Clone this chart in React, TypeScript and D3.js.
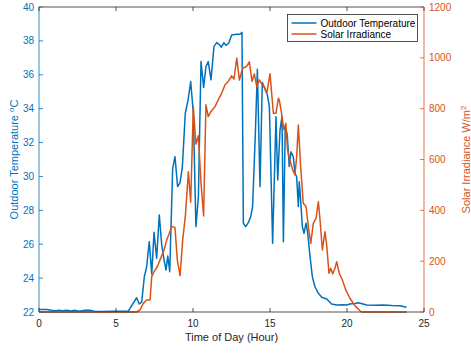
import * as d3 from "d3";

// outdoor temperature (deg C) vs hour of day
const tempHours = [
  0, 0.5, 0.8, 1.1, 1.3, 1.5, 1.8, 2.1, 2.3, 2.6, 3.0, 3.3, 3.6, 4.2, 4.8, 5.3, 5.8,
  6.34, 6.51, 6.67, 6.84, 6.99, 7.16, 7.32, 7.47, 7.64, 7.81, 7.97, 8.12, 8.25, 8.36, 8.49,
  8.68, 8.83, 9.0, 9.16, 9.31, 9.5, 9.68, 9.85, 10.02, 10.19, 10.35, 10.52, 10.69, 10.84,
  10.99, 11.17, 11.36, 11.54, 11.69, 11.84, 12.01, 12.14, 12.32, 12.51, 12.84, 13.05, 13.18,
  13.27, 13.42, 13.59, 13.75, 13.87, 14.05, 14.18, 14.35, 14.5, 14.66, 14.83, 14.96, 15.17,
  15.39, 15.5, 15.65, 15.78, 15.87, 15.99, 16.12, 16.25, 16.36, 16.51, 16.62, 16.73, 16.84,
  16.9, 16.99, 17.1, 17.21, 17.34, 17.45, 17.6, 17.75, 17.92, 18.14, 18.36, 18.68, 19.0,
  19.33, 19.76, 19.98, 20.19, 20.52, 20.74, 21.28, 21.8, 22.36, 22.9, 23.44, 23.87,
];
const tempValues = [
  22.15, 22.15, 22.1, 22.08, 22.11, 22.07, 22.1, 22.06, 22.1, 22.05, 22.1, 22.1, 22.04, 22.03, 22.05, 22.05, 22.05,
  22.84, 22.47, 22.6, 24.08, 24.67, 26.15, 24.24, 26.7, 25.17, 27.73, 25.96, 25.07, 24.48, 25.3, 24.38,
  30.48, 31.17, 29.4, 29.63, 30.58, 33.73, 34.5, 35.6, 33.75, 27.04, 28.8, 36.78, 35.26, 36.49,
  36.78, 35.7, 37.66, 37.9, 37.8, 37.63, 37.9, 37.74, 37.86, 38.35, 38.39, 38.39, 38.5,
  27.24, 27.04, 27.27, 27.63, 28.22, 32.55, 36.33, 29.4, 35.54, 35.2, 34.81, 34.12, 26.06,
  33.53, 29.79, 32.74, 33.53, 26.15, 32.94, 32.45, 30.58, 31.46, 31.17, 30.19, 29.99, 28.22,
  29.69, 28.61, 27.04, 26.65, 27.24, 26.65, 25.27, 24.08, 23.49, 23.1, 22.87, 22.77, 22.47,
  22.41, 22.43, 22.41, 22.47, 22.5, 22.55, 22.41, 22.4, 22.41, 22.38, 22.37, 22.28,
];

// solar irradiance (W/m^2) vs hour of day
const irrHours = [
  0, 6.34, 6.56, 6.77, 6.99, 7.21, 7.32, 7.47, 7.68, 7.9, 8.12, 8.29, 8.46, 8.61, 8.83,
  8.98, 9.16, 9.33, 9.5, 9.7, 9.85, 10.02, 10.19, 10.35, 10.52, 10.69, 10.84, 10.99, 11.17,
  11.43, 11.64, 11.86, 12.08, 12.29, 12.51, 12.66, 12.84, 13.01, 13.22, 13.48, 13.66, 13.83,
  13.98, 14.14, 14.31, 14.46, 14.61, 14.79, 15.0, 15.22, 15.39, 15.54, 15.6, 15.75, 15.9,
  16.03, 16.14, 16.29, 16.47, 16.62, 16.73, 16.84, 16.99, 17.16, 17.34, 17.49, 17.65, 17.81,
  17.99, 18.14, 18.25, 18.4, 18.57, 18.68, 18.83, 18.94, 19.07, 19.22, 19.33, 19.5, 19.7,
  19.92, 20.19, 20.52, 20.84, 20.95, 23.87,
];
const irrValues = [
  0, 0, 8, 34, 47, 47, 139, 159, 178, 211, 244, 283, 309, 336, 333,
  205, 143, 283, 375, 552, 432, 808, 661, 694, 507, 378, 815, 769, 789,
  808, 835, 861, 894, 907, 929, 916, 999, 913, 959, 966, 984, 907,
  937, 887, 913, 898, 887, 861, 937, 782, 782, 841, 835, 782, 717,
  743, 638, 598, 559, 539, 611, 736, 572, 428, 415, 336, 270, 349,
  369, 434, 362, 244, 316, 264, 152, 172, 150, 172, 198, 152, 126,
  87, 54, 24, 5, 0, 0,
];

const xTicks = [0, 5, 10, 15, 20, 25];
const tempTicks = [22, 24, 26, 28, 30, 32, 34, 36, 38, 40];
const irrTicks = [0, 200, 400, 600, 800, 1000, 1200];

const BLUE = "#0072BD";
const ORANGE = "#D95319";
const GREY = "#262626";
const FONT = "'Liberation Sans', Arial, Helvetica, sans-serif";

export default function App() {
  const width = 471;
  const height = 354;
  const left = 39, right = 424, top = 7, bottom = 312;

  const x = d3.scaleLinear().domain([0, 25]).range([left, right]);
  const yT = d3.scaleLinear().domain([22, 40]).range([bottom, top]);
  const yI = d3.scaleLinear().domain([0, 1200]).range([bottom, top]);

  const tempLine = d3
    .line<number>()
    .x((_, i) => x(tempHours[i]))
    .y((d) => yT(d));
  const irrLine = d3
    .line<number>()
    .x((_, i) => x(irrHours[i]))
    .y((d) => yI(d));

  return (
    <svg
      width={width}
      height={height}
      style={{ position: "absolute", left: 0, top: 0, background: "#fff" }}
      fontFamily={FONT}
    >
      <rect x={0} y={0} width={width} height={height} fill="#fff" />

      {/* data */}
      <path d={tempLine(tempValues) ?? ""} fill="none" stroke={BLUE} strokeWidth={1.5} strokeLinejoin="round" />
      <path d={irrLine(irrValues) ?? ""} fill="none" stroke={ORANGE} strokeWidth={1.5} strokeLinejoin="round" />

      {/* box */}
      <line x1={left} x2={right} y1={top} y2={top} stroke={GREY} strokeWidth={0.8} />
      <line x1={left} x2={right} y1={bottom} y2={bottom} stroke={GREY} strokeWidth={0.8} />
      <line x1={left} x2={left} y1={top} y2={bottom} stroke={BLUE} strokeWidth={0.8} />
      <line x1={right} x2={right} y1={top} y2={bottom} stroke={ORANGE} strokeWidth={0.8} />

      {/* x axis */}
      {xTicks.map((t) => (
        <g key={"x" + t}>
          <line x1={x(t)} x2={x(t)} y1={bottom} y2={bottom - 4} stroke={GREY} strokeWidth={0.8} />
          <line x1={x(t)} x2={x(t)} y1={top} y2={top + 4} stroke={GREY} strokeWidth={0.8} />
          <text x={x(t)} y={bottom + 15} fontSize={10} fill={GREY} textAnchor="middle">
            {t}
          </text>
        </g>
      ))}
      <text x={(left + right) / 2} y={341} fontSize={11} fill={GREY} textAnchor="middle">
        Time of Day (Hour)
      </text>

      {/* left axis */}
      {tempTicks.map((t) => (
        <g key={"t" + t}>
          <line x1={left} x2={left + 4} y1={yT(t)} y2={yT(t)} stroke={BLUE} strokeWidth={0.8} />
          <text x={left - 5} y={yT(t) + 3.5} fontSize={10} fill={BLUE} textAnchor="end">
            {t}
          </text>
        </g>
      ))}
      <text
        transform={`translate(18,${(top + bottom) / 2}) rotate(-90)`}
        fontSize={11}
        fill={BLUE}
        textAnchor="middle"
      >
        Outdoor Temperature <tspan dy={-4} fontSize={8}>o</tspan>
        <tspan dy={4}>C</tspan>
      </text>

      {/* right axis */}
      {irrTicks.map((t) => (
        <g key={"i" + t}>
          <line x1={right} x2={right - 4} y1={yI(t)} y2={yI(t)} stroke={ORANGE} strokeWidth={0.8} />
          <text x={right + 5} y={yI(t) + 3.5} fontSize={10} fill={ORANGE} textAnchor="start">
            {t}
          </text>
        </g>
      ))}
      <text
        transform={`translate(470,${(top + bottom) / 2}) rotate(-90)`}
        fontSize={11}
        fill={ORANGE}
        textAnchor="middle"
      >
        Solar Irradiance W/m<tspan dy={-4} fontSize={8}>2</tspan>
      </text>

      {/* legend */}
      <g>
        <rect x={287.5} y={14.5} width={130} height={27} fill="#fff" stroke={GREY} strokeWidth={0.8} />
        <line x1={291.5} x2={316.5} y1={23} y2={23} stroke={BLUE} strokeWidth={1.5} />
        <text x={320.5} y={26.5} fontSize={10} fill="#000">
          Outdoor Temperature
        </text>
        <line x1={291.5} x2={316.5} y1={34} y2={34} stroke={ORANGE} strokeWidth={1.5} />
        <text x={320.5} y={37.5} fontSize={10} fill="#000">
          Solar Irradiance
        </text>
      </g>
    </svg>
  );
}
